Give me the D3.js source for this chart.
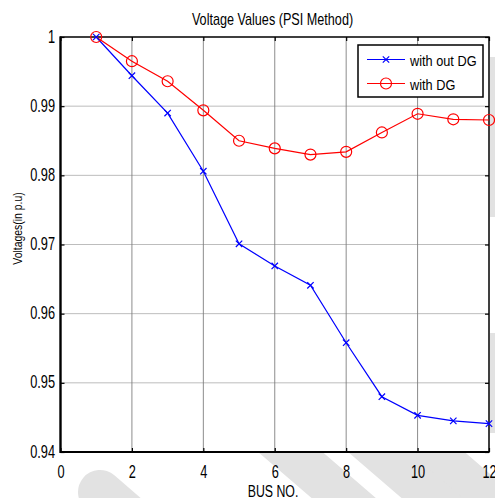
<!DOCTYPE html>
<html><head><meta charset="utf-8">
<script src="https://cdn.jsdelivr.net/npm/d3@7"></script>
<style>
html,body{margin:0;padding:0;background:#fff;}
text{font-family:"Liberation Sans",Arial,sans-serif;fill:#000;}
</style></head>
<body>
<svg id="c" width="495" height="498"></svg>
<script>
// ---- data ----
const buses = [1,2,3,4,5,6,7,8,9,10,11,12];
const withoutDG = [1.0000,0.9944,0.9890,0.9806,0.9701,0.9669,0.9641,0.9558,0.9480,0.9453,0.9445,0.9441];
const withDG    = [1.0000,0.9965,0.9936,0.9894,0.9850,0.9839,0.9830,0.9834,0.9862,0.9889,0.9881,0.9880];
const xTicks = [0,2,4,6,8,10,12];
const yTicks = [0.94,0.95,0.96,0.97,0.98,0.99,1];
const yTickLabels = ["0.94","0.95","0.96","0.97","0.98","0.99","1"];
const seriesNames = ["with out DG","with DG"];
const titleText = "Voltage Values (PSI Method)";
const xLabel = "BUS NO.";
const yLabel = "Voltages(in p.u)";

const svg = d3.select("#c");
const L=60.5, R=489, T=37, B=452;
const x = d3.scaleLinear().domain([0,12]).range([L,R]);
const y = d3.scaleLinear().domain([0.94,1]).range([B,T]);

// watermark bands (behind plot area)
const wm = svg.append("g").attr("stroke","#e2e2e2").attr("fill","none").attr("stroke-linecap","round");
const k = 1.16;
[[100,492,44],[230,400,42],[320,400,42],[400,420,36]].forEach(([sx,sy,w])=>{
  wm.append("line").attr("x1",sx).attr("y1",sy).attr("x2",sx+k*300).attr("y2",sy+300).attr("stroke-width",w);
});
wm.append("rect").attr("x",490).attr("y",57).attr("width",5).attr("height",160).attr("fill","#e2e2e2").attr("stroke","none");
wm.append("rect").attr("x",490).attr("y",333).attr("width",5).attr("height",100).attr("fill","#e2e2e2").attr("stroke","none");

// plot background
svg.append("rect").attr("x",L).attr("y",T).attr("width",R-L).attr("height",B-T).attr("fill","#fff");

// grid
const g = svg.append("g");
g.selectAll(".vg").data(xTicks.slice(1,-1)).join("line")
  .attr("x1",d=>x(d)).attr("x2",d=>x(d)).attr("y1",T).attr("y2",B)
  .attr("stroke","#8c8c8c").attr("stroke-width",1);
g.selectAll(".hg").data(yTicks.slice(1,-1)).join("line")
  .attr("x1",L).attr("x2",R).attr("y1",d=>y(d)).attr("y2",d=>y(d))
  .attr("stroke","#7a7a7a").attr("stroke-width",1).attr("stroke-dasharray","1,1");

// axes
const tsx = 0.71, tfs = 18;
const ax = svg.append("g").attr("transform",`translate(0,${B})`)
  .call(d3.axisBottom(x).tickValues(xTicks).tickFormat(d3.format("d")).tickSizeInner(-4).tickSizeOuter(0).tickPadding(13));
const ay = svg.append("g").attr("transform",`translate(${L},0)`)
  .call(d3.axisLeft(y).tickValues(yTicks).tickFormat((d,i)=>yTickLabels[i]).tickSizeInner(-4).tickSizeOuter(0).tickPadding(5.5));
const at = svg.append("g").attr("transform",`translate(0,${T})`)
  .call(d3.axisTop(x).tickValues(xTicks).tickFormat("").tickSizeInner(-4).tickSizeOuter(0));
const ar = svg.append("g").attr("transform",`translate(${R},0)`)
  .call(d3.axisRight(y).tickValues(yTicks).tickFormat("").tickSizeInner(-4).tickSizeOuter(0));
[ax,ay,at,ar].forEach(a=>{
  a.select(".domain").remove();
  a.selectAll(".tick line").attr("stroke","#000").attr("stroke-width",1.2);
  a.selectAll("text").attr("font-family",'"Liberation Sans",Arial,sans-serif').attr("font-size",tfs).attr("fill","#000");
});
ax.selectAll("text").attr("transform",`scale(${tsx},1)`);
ay.selectAll("text").each(function(){
  const t=d3.select(this); t.attr("x",(-5.5)/tsx).attr("dy","0.28em").attr("transform",`scale(${tsx},1)`);
});
ax.selectAll("text").attr("dy","0.71em");

// box
svg.append("rect").attr("x",L).attr("y",T).attr("width",R-L).attr("height",B-T)
  .attr("fill","none").attr("stroke","#000").attr("stroke-width",1.5);
svg.append("line").attr("x1",L).attr("x2",L).attr("y1",T-0.5).attr("y2",B+1).attr("stroke","#000").attr("stroke-width",2.2);
svg.append("line").attr("x1",L).attr("x2",R).attr("y1",B).attr("y2",B).attr("stroke","#000").attr("stroke-width",2.2);

// series
const line = d3.line().x(d=>x(d[0])).y(d=>y(d[1]));
const blueData = buses.map((b,i)=>[b,withoutDG[i]]);
const redData = buses.map((b,i)=>[b,withDG[i]]);
svg.append("path").datum(blueData).attr("d",line).attr("fill","none").attr("stroke","#0000ff").attr("stroke-width",1.2);
svg.append("path").datum(redData).attr("d",line).attr("fill","none").attr("stroke","#ff0000").attr("stroke-width",1.2);
const xm = 3.2;
function cross(sel,cx,cy){
  sel.append("path").attr("d",`M${cx-xm},${cy-xm}L${cx+xm},${cy+xm}M${cx-xm},${cy+xm}L${cx+xm},${cy-xm}`)
    .attr("stroke","#0000ff").attr("stroke-width",1.2).attr("fill","none");
}
const bm = svg.append("g");
blueData.forEach(d=>cross(bm,x(d[0]),y(d[1])));
svg.append("g").selectAll("circle").data(redData).join("circle")
  .attr("cx",d=>x(d[0])).attr("cy",d=>y(d[1])).attr("r",5.5)
  .attr("fill","none").attr("stroke","#ff0000").attr("stroke-width",1.2);

// legend
const lg = svg.append("g");
lg.append("rect").attr("x",358).attr("y",45).attr("width",125).attr("height",52)
  .attr("fill","#fff").attr("stroke","#000").attr("stroke-width",1.5);
const rows=[59.5,83.5];
lg.append("line").attr("x1",367).attr("x2",405).attr("y1",rows[0]).attr("y2",rows[0]).attr("stroke","#0000ff").attr("stroke-width",1.2);
cross(lg,386,rows[0]);
lg.append("line").attr("x1",367).attr("x2",405).attr("y1",rows[1]).attr("y2",rows[1]).attr("stroke","#ff0000").attr("stroke-width",1.2);
lg.append("circle").attr("cx",386).attr("cy",rows[1]).attr("r",5.5).attr("fill","none").attr("stroke","#ff0000").attr("stroke-width",1.2);
function stext(parent,str,px,py,fs,sx,anchor,rot){
  const tr = rot ? `translate(${px},${py}) rotate(-90) scale(${sx},1)` : `translate(${px},${py}) scale(${sx},1)`;
  return parent.append("text").attr("transform",tr).attr("font-size",fs).attr("text-anchor",anchor||"start").text(str);
}
stext(lg,seriesNames[0],410,65.5,15,0.85);
stext(lg,seriesNames[1],410,89.5,15,0.85);

// titles
stext(svg,titleText,272.5,24.5,16,0.79,"middle");
stext(svg,xLabel,273,497,16,0.77,"middle");
stext(svg,yLabel,22,228.5,12,0.87,"middle",true);
</script>
</body></html>
